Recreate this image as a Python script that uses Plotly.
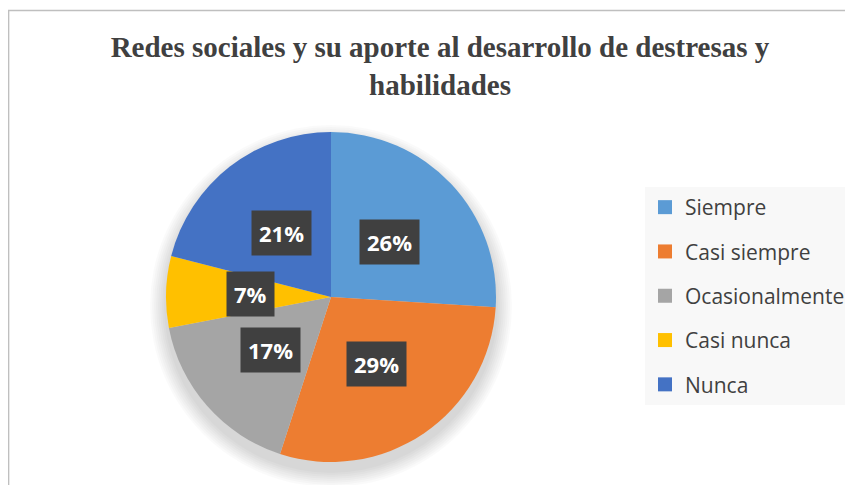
import math
import plotly.graph_objects as go

categories = ["Siempre", "Casi siempre", "Ocasionalmente", "Casi nunca", "Nunca"]
values = [26, 29, 17, 7, 21]
colors = ["#5B9BD5", "#ED7D31", "#A5A5A5", "#FFC000", "#4472C4"]
title_text = "Redes sociales y su aporte al desarrollo de destresas y<br>habilidades"

W, H = 853, 485
OFF = 8  # page body margin offset
cx, cy, R = 331 - OFF, 297 - OFF, 165  # pie centre / radius in figure pixels (layout)

fig = go.Figure()
fig.add_trace(go.Pie(
    labels=categories, values=values, sort=False, direction="clockwise", rotation=0,
    marker=dict(colors=colors, line=dict(width=0)),
    textinfo="none", hoverinfo="label+percent", showlegend=False,
    domain=dict(x=[(cx - R) / W, (cx + R) / W], y=[1 - (cy + R) / H, 1 - (cy - R) / H]),
))

# legend entries (same categories / colours)
for i, (c, col) in enumerate(zip(categories, colors)):
    fig.add_trace(go.Scatter(
        x=[None], y=[None], mode="markers", name=c, legendgroup=str(i),
        marker=dict(symbol="square", size=14, color=col), hoverinfo="skip",
    ))

# data labels placed along each slice's mid-angle
total = sum(values)
cum = 0
annotations = []
for v in values:
    mid = (cum + v / 2) / total * 2 * math.pi
    cum += v
    r = 0.49 * R
    px = cx + r * math.sin(mid)
    py = cy - r * math.cos(mid)
    annotations.append(dict(
        x=px / W, y=1 - py / H, xref="paper", yref="paper", showarrow=False,
        text=f"<b>{round(v / total * 100)}%</b>",
        font=dict(family="Open Sans", size=22, color="white"),
        bgcolor="#404040", borderpad=7, xanchor="center", yanchor="middle",
    ))

# chart frame and soft shadow under the pie (decorative)
shapes = [dict(type="rect", xref="paper", yref="paper",
               x0=0.6 / W, y0=-0.05, x1=1.05, y1=1 - (10.5 - OFF) / H,
               line=dict(color="#BFBFBF", width=1.5), layer="below")]
for k in range(8):
    rr = R + 2 + k * 2
    sy = cy + 9
    shapes.append(dict(type="circle", xref="paper", yref="paper", layer="below",
                       x0=(cx - rr) / W, x1=(cx + rr) / W,
                       y0=1 - (sy + rr) / H, y1=1 - (sy - rr) / H,
                       fillcolor="rgba(0,0,0,0.018)", line=dict(width=0)))

fig.update_layout(
    width=W, height=H, margin=dict(l=0, r=0, t=0, b=0),
    paper_bgcolor="white", plot_bgcolor="white",
    xaxis=dict(visible=False), yaxis=dict(visible=False),
    title=dict(text=f"<b>{title_text}</b>", x=(440 - OFF) / W, xanchor="center",
               y=1 - (57 - OFF) / H, yanchor="top",
               font=dict(family="Liberation Serif", size=29, color="#404040")),
    legend=dict(x=(645 - OFF) / W, xanchor="left", y=1 - (187 - OFF) / H, yanchor="top",
                bgcolor="#F8F8F8", borderwidth=0, tracegroupgap=14,
                font=dict(family="Open Sans", size=21, color="#404040"),
                traceorder="grouped"),
    annotations=annotations,
    shapes=shapes,
)

fig.write_html("out.html")
